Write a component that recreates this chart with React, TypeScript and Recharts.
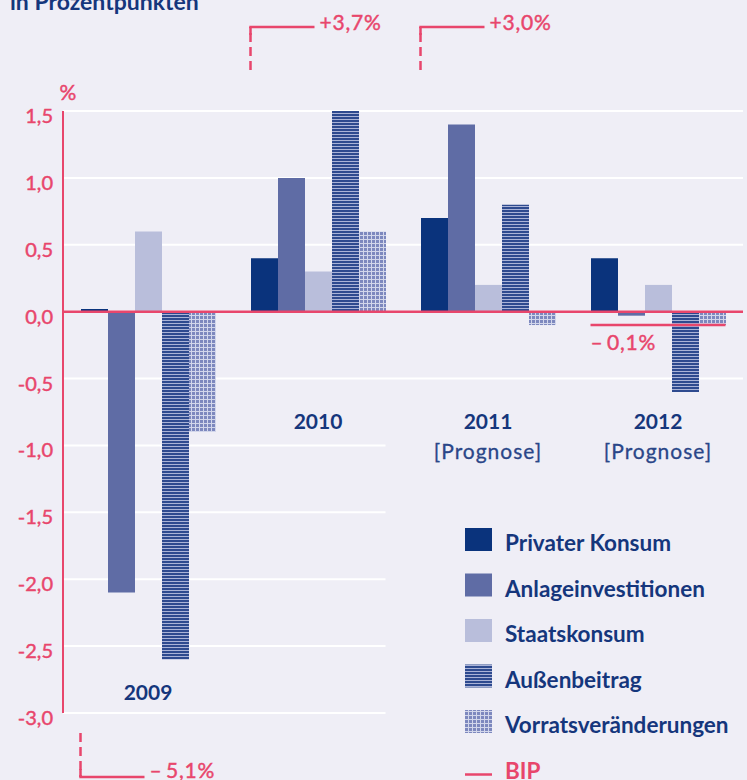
import React from "react";
import {
  Bar,
  BarChart,
  CartesianGrid,
  Label,
  Legend,
  ReferenceDot,
  ReferenceLine,
  XAxis,
  YAxis,
} from "recharts";

const years = ["2009", "2010", "2011", "2012"];
const notes = ["", "", "[Prognose]", "[Prognose]"];
const privaterKonsum = [0.02, 0.4, 0.7, 0.4];
const anlageinvestitionen = [-2.1, 1.0, 1.4, -0.03];
const staatskonsum = [0.6, 0.3, 0.2, 0.2];
const aussenbeitrag = [-2.6, 1.5, 0.8, -0.6];
const vorratsveraenderungen = [-0.9, 0.6, -0.1, -0.1];
const bip = [-5.1, 3.7, 3.0, -0.1];
const yTicks = [-3, -2.5, -2, -1.5, -1, -0.5, 0, 0.5, 1, 1.5];

const data = years.map((year, i) => ({
  year,
  pk: privaterKonsum[i],
  ai: anlageinvestitionen[i],
  sk: staatskonsum[i],
  ab: aussenbeitrag[i],
  vv: vorratsveraenderungen[i],
}));

const series = [
  { key: "pk", name: "Privater Konsum", fill: "#0a337c" },
  { key: "ai", name: "Anlageinvestitionen", fill: "#5f6ca5" },
  { key: "sk", name: "Staatskonsum", fill: "#b9bedb" },
  { key: "ab", name: "Außenbeitrag", fill: "url(#stripes)" },
  { key: "vv", name: "Vorratsveränderungen", fill: "url(#dots)" },
];

const PINK = "#e8466c";
const NAVY = "#15367c";
const BG = "#efeef6";
const Y_MIN = -3;
const Y_MAX = 1.5;
const BAR = 27;
const GRID_CUT = -0.5; // gridlines below this stop after 2010

const fmt = (v: number) => v.toFixed(1).replace(".", ",");
const fmtBip = (v: number) =>
  v < 0 ? "\u2013\u2009" + fmt(-v) + "%" : "+" + fmt(v) + "%";

// pink texts are a bit heavier in the original
const pinkText = { fill: PINK, stroke: PINK, strokeWidth: 0.45 };

function GridLine(props: any) {
  const { x1, x2, y1 } = props;
  const top = props.y ?? 111;
  const h = props.height ?? 601;
  const cutY = top + (h * (Y_MAX - GRID_CUT)) / (Y_MAX - Y_MIN);
  const band = (x2 - x1) / years.length;
  const end = y1 > cutY + 1 ? x1 + 2 * band - (band - 5 * BAR) / 2 : x2;
  return <line x1={x1} x2={end} y1={y1} y2={y1} stroke="#ffffff" strokeWidth={2} />;
}

function YearLabel({ cx, cy, i }: any) {
  return (
    <g>
      <text x={cx} y={cy} textAnchor="middle" fill={NAVY} fontSize={21} fontWeight={700}>
        {years[i]}
      </text>
      {notes[i] && (
        <text
          x={cx}
          y={cy + 30}
          textAnchor="middle"
          fill="#2a4688"
          stroke="#2a4688"
          strokeWidth={0.3}
          fontSize={21}
          letterSpacing={1}
        >
          {notes[i]}
        </text>
      )}
    </g>
  );
}

function BipMark({ cx, cy, i }: any) {
  const v = bip[i];
  const left = cx - 2.5 * BAR;
  const style = { ...pinkText, fontSize: 21, letterSpacing: 0.8 };
  if (v > Y_MAX || v < Y_MIN) {
    const up = v > Y_MAX;
    const dir = up ? -1 : 1;
    const corner = cy + dir * (up ? 84 : 64);
    const start = cy + dir * (up ? 41 : 20);
    return (
      <g>
        <line x1={left} x2={left} y1={start} y2={corner} stroke={PINK} strokeWidth={2.5} strokeDasharray="9 5" />
        <line x1={left - 1.2} x2={left + 64} y1={corner} y2={corner} stroke={PINK} strokeWidth={2.5} />
        <line x1={left} x2={left} y1={corner} y2={corner - dir * 8} stroke={PINK} strokeWidth={2.5} />
        <text x={left + 69} y={corner + (up ? 3 : 1)} {...style}>
          {fmtBip(v)}
        </text>
      </g>
    );
  }
  return (
    <g>
      <line x1={left} x2={left + 5 * BAR} y1={cy} y2={cy} stroke={PINK} strokeWidth={2.5} />
      <text x={left} y={cy + 25} {...style}>
        {fmtBip(v)}
      </text>
    </g>
  );
}

function LegendBox() {
  const pitch = 45.5;
  return (
    <svg width={282} height={252} style={{ overflow: "visible" }}>
      {series.map((s, i) => (
        <g key={s.key}>
          <rect x={0} y={i * pitch} width={27} height={23} fill={s.fill} />
          <text x={40} y={i * pitch + 23} fill={NAVY} fontSize={22.5} fontWeight={700} fontFamily="Lato">
            {s.name}
          </text>
        </g>
      ))}
      <line x1={0} x2={27} y1={5 * pitch + 19} y2={5 * pitch + 19} stroke={PINK} strokeWidth={2.5} />
      <text x={40} y={5 * pitch + 23} fill={PINK} fontSize={22.5} fontWeight={700} fontFamily="Lato">
        BIP
      </text>
    </svg>
  );
}

export default function App() {
  return (
    <div
      style={{
        position: "absolute",
        left: 0,
        top: 0,
        width: 747,
        height: 780,
        background: BG,
        fontFamily: "Lato",
        overflow: "hidden",
      }}
    >
      <svg width={0} height={0} style={{ position: "absolute" }}>
        <defs>
          <pattern id="stripes" patternUnits="userSpaceOnUse" width={4} height={3}>
            <rect width={4} height={3} fill="#2e4a8f" />
            <rect y={2} width={4} height={1} fill="#aab3d7" />
          </pattern>
          <pattern id="dots" patternUnits="userSpaceOnUse" width={4} height={4}>
            <rect width={4} height={4} fill="#7d88be" />
            <rect x={3} width={1} height={4} fill="#d2d6eb" />
            <rect y={3} width={4} height={1} fill="#d2d6eb" />
          </pattern>
        </defs>
      </svg>
      <div
        style={{
          position: "absolute",
          left: 10,
          top: -10,
          fontSize: 23,
          lineHeight: "23px",
          fontWeight: 700,
          color: NAVY,
        }}
      >
        in Prozentpunkten
      </div>
      <BarChart
        width={747}
        height={780}
        data={data}
        barGap={0}
        margin={{ top: 111, right: 4, bottom: 67, left: 0 }}
      >
        <CartesianGrid vertical={false} horizontal={(p: any) => <GridLine key={p.key} {...p} />} />
        <XAxis dataKey="year" hide />
        <YAxis
          type="number"
          domain={[Y_MIN, Y_MAX]}
          ticks={yTicks}
          interval={0}
          width={63}
          allowDataOverflow
          tickLine={false}
          tickSize={0}
          tickMargin={10}
          axisLine={{ stroke: PINK, strokeWidth: 2 }}
          tick={(p: any) => (
            <text x={p.x} y={p.y + 12} textAnchor="end" {...pinkText} fontSize={20}>
              {fmt(p.payload.value)}
            </text>
          )}
        >
          <Label
            content={(p: any) => (
              <text
                x={p.viewBox.x + p.viewBox.width + 5}
                y={p.viewBox.y - 11}
                textAnchor="middle"
                {...pinkText}
                fontSize={21}
              >
                %
              </text>
            )}
          />
        </YAxis>
        {series.map((s) => (
          <Bar key={s.key} dataKey={s.key} name={s.name} fill={s.fill} barSize={BAR} isAnimationActive={false} />
        ))}
        <ReferenceLine y={0} stroke={PINK} strokeWidth={2.5} />
        {years.map((y, i) => (
          <ReferenceDot
            key={"lab" + y}
            x={y}
            y={i === 0 ? -2.9 : -0.88}
            r={0}
            ifOverflow="visible"
            shape={(p: any) => <YearLabel {...p} i={i} />}
          />
        ))}
        {years.map((y, i) => (
          <ReferenceDot
            key={"bip" + y}
            x={y}
            y={Math.max(Y_MIN, Math.min(Y_MAX, bip[i]))}
            r={0}
            ifOverflow="visible"
            shape={(p: any) => <BipMark {...p} i={i} />}
          />
        ))}
        <Legend
          layout="horizontal"
          verticalAlign="middle"
          align="center"
          wrapperStyle={{ left: 465, top: 528, width: 282, height: 252 }}
          content={() => <LegendBox />}
        />
      </BarChart>
    </div>
  );
}
